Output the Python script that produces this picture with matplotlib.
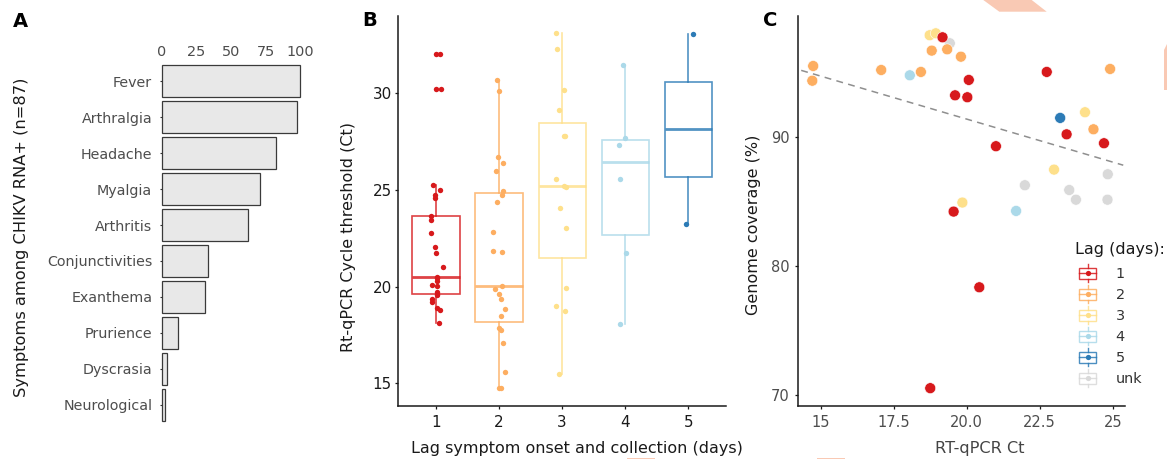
import matplotlib
matplotlib.use("Agg")
import matplotlib.pyplot as plt
import numpy as np
from matplotlib.legend_handler import HandlerBase
from matplotlib.patches import Rectangle, Polygon
from matplotlib.lines import Line2D
from matplotlib.colors import to_rgba

plt.rcParams['font.family'] = ['DejaVu Sans']

# ---------------- data ----------------
# Panel A
symptoms = ["Fever", "Arthralgia", "Headache", "Myalgia", "Arthritis",
            "Conjunctivities", "Exanthema", "Prurience", "Dyscrasia", "Neurological"]
symptom_pct = [100.0, 97.7, 82.8, 71.3, 62.1, 33.3, 31.0, 11.5, 3.4, 2.3]
pct_ticks = [0, 25, 50, 75, 100]

# Panel B  (Ct per lag group, and horizontal jitter)
lag_days = [1, 2, 3, 4, 5]
ct_lag1 = [32.01, 30.21, 25.23, 24.99, 24.73, 24.59, 23.66, 23.44, 22.79, 22.06,
           21.75, 21.03, 20.48, 20.45, 20.31, 20.08, 20.03, 19.72, 19.62, 19.58,
           19.34, 19.22, 18.88, 18.79, 18.14]
jit_lag1 = [0.063, 0.085, -0.053, 0.063, -0.011, -0.021, -0.085, -0.074, -0.074, -0.021,
            0.0, 0.106, 0.021, 0.018, 0.021, -0.063, 0.021, 0.011, 0.015, 0.021,
            -0.063, -0.063, 0.011, 0.063, 0.053]
ct_lag2 = [30.67, 30.09, 26.71, 26.37, 25.97, 24.95, 24.73, 24.39, 22.84, 21.84,
           21.80, 20.03, 19.88, 19.60, 19.36, 18.84, 18.48, 17.88, 17.76, 17.10,
           15.60, 14.75, 14.75]
jit_lag2 = [-0.037, 0.005, -0.016, 0.069, -0.048, 0.069, 0.048, -0.026, -0.10, -0.09,
            0.048, 0.048, -0.069, 0.005, 0.026, 0.09, 0.026, 0.005, 0.037, 0.058,
            0.09, 0.005, 0.026]
ct_lag3 = [33.10, 32.27, 30.14, 29.12, 27.78, 27.78, 25.57, 25.21, 25.14, 24.08,
           23.04, 19.91, 19.00, 18.76, 15.50]
jit_lag3 = [-0.10, -0.079, 0.026, -0.048, 0.026, 0.048, -0.10, 0.037, 0.058, -0.037,
            0.069, 0.069, -0.09, 0.048, -0.048]
ct_lag4 = [31.46, 27.66, 27.30, 25.54, 21.72, 18.08]
jit_lag4 = [-0.037, 0.005, -0.10, -0.079, 0.016, -0.079]
ct_lag5 = [33.03, 23.22]
jit_lag5 = [0.069, -0.037]
ct_ticks = [15, 20, 25, 30]

# Panel C
ct_c = [19.42, 24.83, 21.99, 23.51, 23.74, 24.82,
        18.05, 21.69,
        18.73, 18.94, 24.05, 22.99, 19.85,
        18.80, 19.33, 19.80, 14.74, 14.71, 17.07, 18.43, 24.91, 24.34,
        23.20,
        19.17, 19.60, 20.07, 20.02, 22.74, 23.42, 24.70, 21.00, 19.55, 20.43, 18.75]
cov_c = [97.23, 87.09, 86.24, 85.87, 85.12, 85.12,
         94.75, 84.25,
         97.85, 98.00, 91.89, 87.45, 84.90,
         96.66, 96.76, 96.19, 95.47, 94.33, 95.16, 95.01, 95.24, 90.57,
         91.45,
         97.69, 93.20, 94.39, 93.05, 95.01, 90.18, 89.49, 89.26, 84.20, 78.34, 70.53]
lag_c = ["unk"] * 6 + ["4"] * 2 + ["3"] * 5 + ["2"] * 9 + ["5"] + ["1"] * 11
lag_levels = ["1", "2", "3", "4", "5", "unk"]
cov_xticks = [15, 17.5, 20.0, 22.5, 25]
cov_xticklabels = ["15", "17.5", "20.0", "22.5", "25"]
cov_yticks = [70, 80, 90]

lag_colors = {"1": "#d7191c", "2": "#fdae61", "3": "#fee08b",
              "4": "#abd9e9", "5": "#2c7bb6", "unk": "#d9d9d9"}

# ---------------- figure ----------------
W, H = 1167, 459
fig = plt.figure(figsize=(W / 100, H / 100), dpi=100)


def fx(x):
    return x / W


def fy(y):
    return 1 - y / H


def axrect(l, t, r, b):
    return [fx(l), fy(b), (r - l) / W, (b - t) / H]


TICK_GREY = "#4d4d4d"

# ---------------- Panel A ----------------
axA = fig.add_axes(axrect(162, 59.5, 300, 426.5))
ypos = np.arange(len(symptoms))
bars = axA.barh(ypos, symptom_pct, height=0.9, color="#e8e8e8",
                edgecolor="#3a3a3a", linewidth=0.9)
for b in bars:
    b.set_clip_on(False)
axA.set_xlim(0, 100)
axA.set_ylim(len(symptoms) - 0.4, -0.6)
axA.set_yticks(ypos)
axA.set_yticklabels(symptoms)
axA.set_xticks(pct_ticks)
axA.xaxis.tick_top()
for s in axA.spines.values():
    s.set_visible(False)
axA.tick_params(axis="x", length=0, pad=0.5, labelsize=10.4, labelcolor=TICK_GREY)
axA.tick_params(axis="y", length=1.6, width=0.8, color="#333333", pad=5.5,
                labelsize=10.3, labelcolor=TICK_GREY)

fig.text(fx(21.7), fy(237.2), "Symptoms among CHIKV RNA+ (n=87)", rotation=90,
         ha="center", va="center", fontsize=11.7, color="#1a1a1a")

# ---------------- Panel B ----------------
axB = fig.add_axes(axrect(398.3, 16, 726, 406))
groups = [ct_lag1, ct_lag2, ct_lag3, ct_lag4, ct_lag5]
jits = [jit_lag1, jit_lag2, jit_lag3, jit_lag4, jit_lag5]
bp = axB.boxplot(groups, positions=lag_days, widths=0.75, whis=1.5,
                 patch_artist=True, showcaps=False, manage_ticks=False)
for i, key in enumerate(["1", "2", "3", "4", "5"]):
    c = lag_colors[key]
    ce = to_rgba(c, 0.82)
    bp["boxes"][i].set(facecolor="none", edgecolor=ce, linewidth=1.2, zorder=2)
    bp["medians"][i].set(color=ce, linewidth=2.0, zorder=2)
    for w in bp["whiskers"][2 * i:2 * i + 2]:
        w.set(color=ce, linewidth=1.2, zorder=2)
    bp["fliers"][i].set(marker="o", markerfacecolor=c, markeredgecolor="none",
                        markersize=3.9, zorder=3)
    axB.scatter(np.array(jits[i]) + lag_days[i], groups[i], s=15, color=c,
                linewidths=0, zorder=3)

axB.set_xlim(0.4, 5.6)
axB.set_ylim(13.83, 33.98)
axB.set_xticks(lag_days)
axB.set_yticks(ct_ticks)
for side in ["top", "right"]:
    axB.spines[side].set_visible(False)
for side in ["left", "bottom"]:
    axB.spines[side].set_linewidth(1.1)
    axB.spines[side].set_color("#1a1a1a")
axB.tick_params(axis="both", length=2.5, width=0.9, color="#1a1a1a",
                labelsize=10.9, labelcolor="#1a1a1a")
axB.tick_params(axis="y", pad=2.2)
axB.tick_params(axis="x", pad=4.0)

fig.text(fx(348.3), fy(236.7), "Rt-qPCR Cycle threshold (Ct)", rotation=90,
         ha="center", va="center", fontsize=11.5, color="#1a1a1a")
fig.text(fx(577), fy(448), "Lag symptom onset and collection (days)",
         ha="center", va="center", fontsize=11.5, color="#1a1a1a")

# ---------------- Panel C ----------------
axC = fig.add_axes(axrect(797.7, 16, 1125, 406))
axC.scatter(ct_c, cov_c, s=62, c=[lag_colors[k] for k in lag_c],
            edgecolors="white", linewidths=0.4, zorder=3)
axC.set_xlim(14.21, 25.42)
axC.set_ylim(69.15, 99.34)
slope, intercept = np.polyfit(ct_c, cov_c, 1)
xl = np.array([14.33, 25.36])
axC.plot(xl, intercept + slope * xl, linestyle=(0, (4.5, 3.5)), color="#8f8f8f",
         linewidth=1.1, zorder=2)
axC.set_xticks(cov_xticks)
axC.set_xticklabels(cov_xticklabels)
axC.set_yticks(cov_yticks)
for side in ["top", "right"]:
    axC.spines[side].set_visible(False)
for side in ["left", "bottom"]:
    axC.spines[side].set_linewidth(1.1)
    axC.spines[side].set_color("#1a1a1a")
axC.tick_params(axis="both", length=2.5, width=0.9, color="#1a1a1a",
                labelsize=10.5, labelcolor=TICK_GREY)
axC.tick_params(axis="y", pad=3.5)
axC.tick_params(axis="x", pad=4.0)

fig.text(fx(753.3), fy(225), "Genome coverage (%)", rotation=90,
         ha="center", va="center", fontsize=11.5, color="#1a1a1a")
fig.text(fx(980), fy(448), "RT-qPCR Ct", ha="center", va="center",
         fontsize=11.6, color="#444444")


class BoxKeyHandler(HandlerBase):
    def create_artists(self, legend, orig_handle, xdescent, ydescent, width,
                       height, fontsize, trans):
        c = orig_handle.get_color()
        ce = to_rgba(c, 0.85)
        cx = width / 2 - xdescent
        cy = height / 2 - ydescent
        bw = width
        bh = height
        ext = 2.6
        rect = Rectangle((cx - bw / 2, cy - bh / 2), bw, bh, facecolor="white",
                         edgecolor=ce, linewidth=1.0, transform=trans)
        wl = Line2D([cx, cx], [cy - bh / 2 - ext, cy - bh / 2], color=ce,
                    linewidth=1.0, transform=trans)
        wh = Line2D([cx, cx], [cy + bh / 2, cy + bh / 2 + ext], color=ce,
                    linewidth=1.0, transform=trans)
        med = Line2D([cx - bw / 2, cx + bw / 2], [cy, cy], color=ce,
                     linewidth=1.0, transform=trans)
        dot = Line2D([cx], [cy], marker="o", markersize=3.8, color=c,
                     markeredgecolor="none", linestyle="none", transform=trans)
        return [rect, wl, wh, med, dot]


handles = [Line2D([], [], color=lag_colors[k]) for k in lag_levels]
leg = axC.legend(handles, lag_levels,
                 handler_map={Line2D: BoxKeyHandler()},
                 loc="upper left", bbox_to_anchor=(fx(1076), fy(264.4)),
                 bbox_transform=fig.transFigure, frameon=False,
                 fontsize=10.4, handlelength=1.2,
                 handleheight=0.75, handletextpad=1.35, labelspacing=0.485,
                 borderpad=0.2, borderaxespad=0)
for t in leg.get_texts():
    t.set_color("#333333")
fig.text(fx(1075), fy(249.3), "Lag (days):", ha="left", va="center",
         fontsize=11.5, color="#1a1a1a")

# ---------------- panel letters ----------------
for lx, ly, s in [(20, 21.5, "A"), (370, 21, "B"), (770.5, 21, "C")]:
    fig.text(fx(lx), fy(ly), s, ha="center", va="center", fontsize=14,
             fontweight="bold", color="black")

# ---------------- stray salmon fragments at the edges ----------------
salmon = "#f9c9b4"
fig.patches.append(Polygon([(fx(983.3), fy(0)), (fx(1031.7), fy(0)),
                            (fx(1046.7), fy(11.7)), (fx(999.3), fy(11.7))],
                           closed=True, transform=fig.transFigure,
                           facecolor=salmon, edgecolor="none"))
fig.patches.append(Polygon([(fx(1167), fy(44)), (fx(1164), fy(50)),
                            (fx(1164), fy(90)), (fx(1167), fy(90))],
                           closed=True, transform=fig.transFigure,
                           facecolor=salmon, edgecolor="none"))
for x0, x1 in [(627, 655), (817, 845)]:
    fig.patches.append(Rectangle((fx(x0), fy(459)), (x1 - x0) / W, 1.5 / H,
                                 transform=fig.transFigure, facecolor=salmon,
                                 edgecolor="none"))

fig.savefig("out.png", dpi=100)
